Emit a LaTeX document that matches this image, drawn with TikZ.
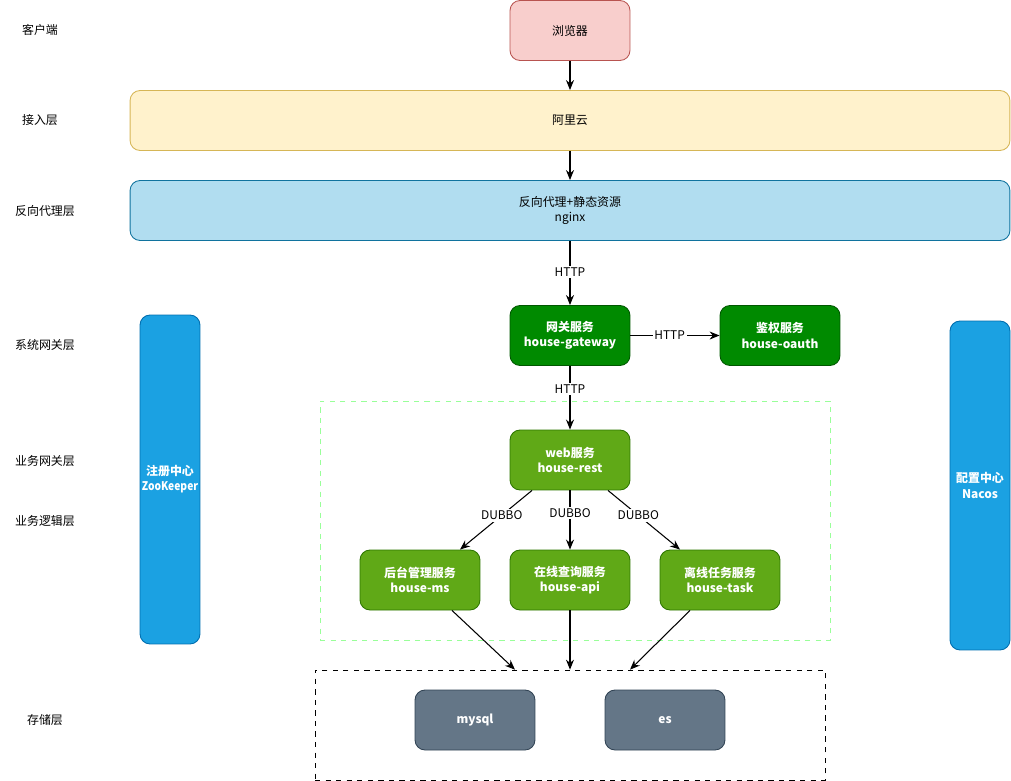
\documentclass[tikz,border=0pt]{standalone}
\usepackage{fontspec}
\setmainfont{Noto Sans CJK SC}
\usepackage{tikz}
\usetikzlibrary{arrows.meta,positioning,calc}
\definecolor{redfill}{HTML}{F8CECC}
\definecolor{redline}{HTML}{B85450}
\definecolor{yellowfill}{HTML}{FFF2CC}
\definecolor{yellowline}{HTML}{D6B656}
\definecolor{bluefill}{HTML}{B1DDF0}
\definecolor{blueline}{HTML}{10739E}
\definecolor{darkgreen}{HTML}{008A00}
\definecolor{darkgreenline}{HTML}{005700}
\definecolor{leafgreen}{HTML}{60A917}
\definecolor{leafgreenline}{HTML}{2D7600}
\definecolor{skyblue}{HTML}{1BA1E2}
\definecolor{skyblueline}{HTML}{006EAF}
\definecolor{slate}{HTML}{647687}
\definecolor{slateline}{HTML}{314354}
\definecolor{paleline}{HTML}{99FF99}

\begin{document}
\begin{tikzpicture}[
  x=0.02cm,y=-0.02cm,
  font=\fontsize{6.8}{8.6}\selectfont,
  box/.style={draw,line width=0.5pt,rounded corners=0.2cm,minimum width=2.4cm,minimum height=1.2cm,align=center,inner sep=1pt},
  svc/.style={box,text=white,font=\fontsize{6.8}{8.6}\selectfont\bfseries},
  wide/.style={box,minimum width=17.6cm},
  pillar/.style={svc,fill=skyblue,draw=skyblueline,minimum width=1.2cm,minimum height=6.58cm},
  arr/.style={-{Stealth[length=2mm,width=1.6mm]},line width=0.6pt},
  lbl/.style={fill=white,inner sep=1pt},
]
\useasboundingbox (0,0) rectangle (1011,781);

% 分组框
\node[draw=paleline,dashed,minimum width=10.2cm,minimum height=4.78cm] (bizarea) at (575,520.5) {};
\node[draw,dashed,minimum width=10.2cm,minimum height=2.2cm] (store) at (570,725) {};

% 左侧分层
\node (lclient) at (40,30) {客户端};
\node (laccess) at (40,120) {接入层};
\node (lproxy) at (45,211) {反向代理层};
\node (lgate) at (45,345) {系统网关层};
\node (lbizgate) at (45,461) {业务网关层};
\node (lbizlogic) at (45,521) {业务逻辑层};
\node (lstore) at (45,720) {存储层};

% 客户端 / 接入 / 代理
\node[box,fill=redfill,draw=redline] (browser) at (570,30.5) {浏览器};
\node[wide,fill=yellowfill,draw=yellowline] (aliyun) at (570,120.5) {阿里云};
\node[wide,fill=bluefill,draw=blueline] (nginx) at (570,210.5) {反向代理+静态资源\\nginx};

% 网关
\node[svc,fill=darkgreen,draw=darkgreenline] (gateway) at (570,335.5) {网关服务\\house-gateway};
\node[svc,fill=darkgreen,draw=darkgreenline] (oauth) at (780,335.5) {鉴权服务\\house-oauth};

% 注册中心 / 配置中心
\node[pillar] (zk) at (170,479.5) {注册中心\\\makebox[0pt]{\scalebox{0.86}[1]{ZooKeeper}}};
\node[pillar] (nacos) at (980,485.5) {配置中心\\Nacos};

% 业务服务
\node[svc,fill=leafgreen,draw=leafgreenline] (rest) at (570,460) {web服务\\house-rest};
\node[svc,fill=leafgreen,draw=leafgreenline] (ms) at (420,580) {后台管理服务\\house-ms};
\node[svc,fill=leafgreen,draw=leafgreenline] (api) at (570,580) {在线查询服务\\house-api};
\node[svc,fill=leafgreen,draw=leafgreenline] (task) at (720,580) {离线任务服务\\house-task};

% 存储
\node[svc,fill=slate,draw=slateline] (mysql) at (475,720) {mysql};
\node[svc,fill=slate,draw=slateline] (es) at (665,720) {es};

% 连接
\draw[arr] (browser) -- (aliyun);
\draw[arr] (aliyun) -- (nginx);
\draw[arr] (nginx) -- node[lbl,pos=0.48] {HTTP} (gateway);
\draw[arr] (gateway) -- node[lbl,pos=0.44] {HTTP} (oauth);
\draw[arr] (gateway) -- node[lbl,pos=0.36] {HTTP} (rest);

\draw[arr] ($(rest.south)+(-38,0)$) -- node[lbl,pos=0.42] {DUBBO} ($(ms.north)+(40,0)$);
\draw[arr] (rest) -- node[lbl,pos=0.38] {DUBBO} (api);
\draw[arr] ($(rest.south)+(38,0)$) -- node[lbl,pos=0.42] {DUBBO} ($(task.north)+(-40,0)$);

\coordinate (inleft) at ($(store.north)+(-55,0)$);
\coordinate (inright) at ($(store.north)+(60,0)$);
\draw[arr] ($(ms.south)+(32,0)$) -- (inleft);
\draw[arr] (api) -- (store);
\draw[arr] ($(task.south)+(-30,0)$) -- (inright);

\end{tikzpicture}
\end{document}
